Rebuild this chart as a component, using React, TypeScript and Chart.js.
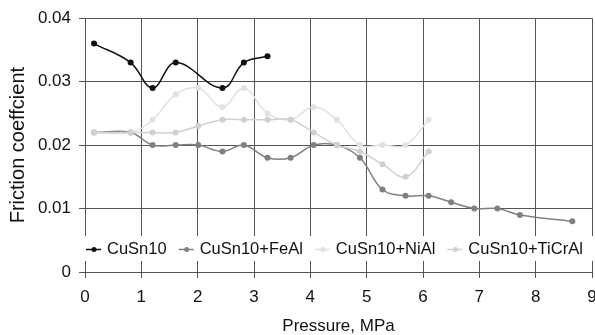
import { useEffect, useRef } from "react";
import { Chart, registerables } from "chart.js";

Chart.register(...registerables);

const seriesNames = ["CuSn10", "CuSn10+FeAl", "CuSn10+NiAl", "CuSn10+TiCrAl"];
const seriesColors = ["#111111", "#808080", "#e2e2e2", "#d0d0d0"];

const cuSn10X = [0.16, 0.81, 1.2, 1.61, 2.44, 2.82, 3.24];
const cuSn10Y = [0.036, 0.033, 0.029, 0.033, 0.029, 0.033, 0.034];

const feAlX = [0.16, 0.81, 1.2, 1.61, 2.01, 2.44, 2.82, 3.24, 3.65, 4.06, 4.47, 4.88, 5.28, 5.69, 6.1, 6.5, 6.91, 7.32, 7.72, 8.65];
const feAlY = [0.022, 0.022, 0.02, 0.02, 0.02, 0.019, 0.02, 0.018, 0.018, 0.02, 0.02, 0.018, 0.013, 0.012, 0.012, 0.011, 0.01, 0.01, 0.009, 0.008];

const niAlX = [0.16, 0.81, 1.2, 1.61, 2.01, 2.44, 2.82, 3.24, 3.65, 4.06, 4.47, 4.88, 5.28, 5.69, 6.1];
const niAlY = [0.022, 0.022, 0.024, 0.028, 0.029, 0.026, 0.029, 0.025, 0.024, 0.026, 0.024, 0.02, 0.02, 0.02, 0.024];

const tiCrAlX = [0.16, 0.81, 1.2, 1.61, 2.01, 2.44, 2.82, 3.24, 3.65, 4.06, 4.47, 4.88, 5.28, 5.69, 6.1];
const tiCrAlY = [0.022, 0.022, 0.022, 0.022, 0.023, 0.024, 0.024, 0.024, 0.024, 0.022, 0.02, 0.019, 0.017, 0.015, 0.019];

const xMin = 0;
const xMax = 9;
const yMin = 0;
const yMax = 0.04;
const xTitle = "Pressure, MPa";
const yTitle = "Friction coeffcient";

const FONT = "'Liberation Sans', Arial, Helvetica, sans-serif";
const GRID = "#555555";

const toPoints = (xs: number[], ys: number[]) => xs.map((x, i) => ({ x, y: ys[i] }));

const legendPlugin = {
  id: "insideLegend",
  afterDraw(chart: any) {
    const ctx = chart.ctx as CanvasRenderingContext2D;
    const area = chart.chartArea;
    const top = area.bottom - 36;
    const h = 25;
    const cy = top + h / 2 + 1;
    ctx.save();
    ctx.fillStyle = "#ffffff";
    ctx.fillRect(area.left - 2, top, area.right - area.left + 4, h);
    ctx.font = `16.5px ${FONT}`;
    ctx.textBaseline = "middle";
    ctx.textAlign = "left";
    let x = area.left + 1;
    chart.data.datasets.forEach((ds: any) => {
      ctx.strokeStyle = ds.borderColor;
      ctx.lineWidth = ds.borderWidth;
      ctx.beginPath();
      ctx.moveTo(x, cy);
      ctx.lineTo(x + 15, cy);
      ctx.stroke();
      ctx.fillStyle = ds.pointBackgroundColor;
      ctx.beginPath();
      ctx.arc(x + 8, cy, 2.5, 0, Math.PI * 2);
      ctx.fill();
      ctx.fillStyle = "#111111";
      ctx.fillText(ds.label, x + 21, cy);
      x += 21 + ctx.measureText(ds.label).width + 12;
    });
    ctx.restore();
  },
};

export default function App() {
  const ref = useRef<HTMLCanvasElement | null>(null);

  useEffect(() => {
    if (!ref.current) return;
    const xs = [cuSn10X, feAlX, niAlX, tiCrAlX];
    const ys = [cuSn10Y, feAlY, niAlY, tiCrAlY];
    const chart = new Chart(ref.current, {
      type: "line",
      data: {
        datasets: seriesNames.map((name, i) => ({
          label: name,
          data: toPoints(xs[i], ys[i]),
          borderColor: seriesColors[i],
          backgroundColor: seriesColors[i],
          pointBackgroundColor: seriesColors[i],
          pointBorderColor: seriesColors[i],
          pointRadius: 3,
          pointBorderWidth: 0,
          borderWidth: 1.5,
          tension: 0.4,
          fill: false,
          order: 3 - i,
        })),
      },
      options: {
        animation: false,
        responsive: false,
        events: [],
        layout: { padding: { top: 18, right: 18, bottom: 0, left: 0 } },
        plugins: {
          legend: { display: false },
          tooltip: { enabled: false },
        },
        scales: {
          x: {
            type: "linear",
            min: xMin,
            max: xMax,
            afterFit: (s: any) => {
              s.height = 63;
            },
            ticks: {
              stepSize: 1,
              padding: 9,
              color: "#111111",
              font: { family: FONT, size: 17 },
              callback: (v: any) => String(v),
            },
            grid: { color: GRID, lineWidth: 1, tickLength: 6, drawTicks: true },
            border: { color: GRID, width: 1 },
            title: {
              display: true,
              text: xTitle,
              color: "#111111",
              padding: { top: 0, bottom: 0 },
              font: { family: FONT, size: 17, lineHeight: 1.0 },
            },
          },
          y: {
            type: "linear",
            min: yMin,
            max: yMax,
            afterFit: (s: any) => {
              s.width = 85;
            },
            ticks: {
              stepSize: 0.01,
              padding: 8,
              color: "#111111",
              font: { family: FONT, size: 17 },
              callback: (v: any) => (Number(v) === 0 ? "0" : Number(v).toFixed(2)),
            },
            grid: { color: GRID, lineWidth: 1, tickLength: 6, drawTicks: true },
            border: { color: GRID, width: 1 },
            title: {
              display: true,
              text: yTitle,
              color: "#111111",
              padding: { top: 6, bottom: 0 },
              font: { family: FONT, size: 20 },
            },
          },
        },
      },
      plugins: [legendPlugin],
    });
    return () => chart.destroy();
  }, []);

  return (
    <div
      style={{
        position: "fixed",
        left: 0,
        top: 0,
        width: 595,
        height: 335,
        overflow: "hidden",
        background: "#ffffff",
      }}
    >
      <canvas ref={ref} width={610} height={335} style={{ display: "block" }} />
    </div>
  );
}
